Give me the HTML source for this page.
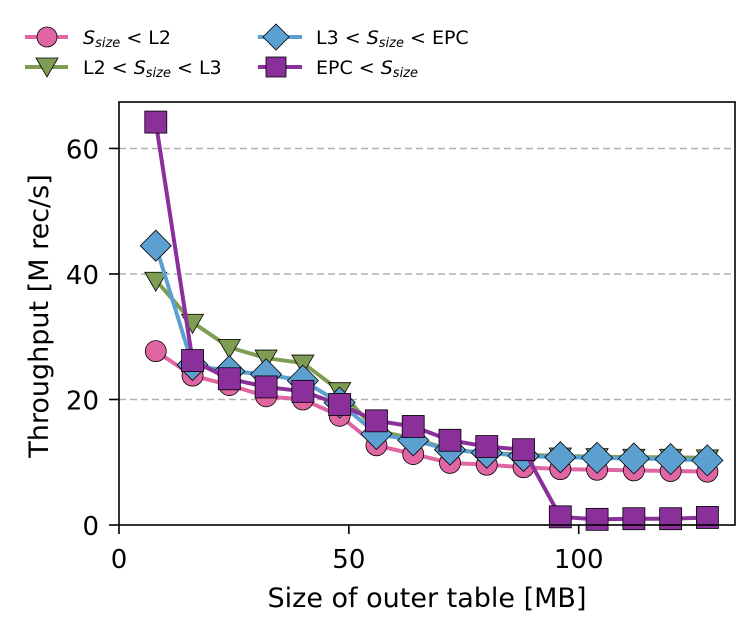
<!DOCTYPE html>
<html><head><meta charset="utf-8"><style>
html,body{margin:0;padding:0;background:#fff;}
svg{display:block;font-family:"DejaVu Sans","Liberation Sans",sans-serif;}
</style></head><body>
<svg id="chart" width="755" height="632" viewBox="0 0 755 632">
<g id="legend">
  <g>
    <line x1="25" y1="37" x2="68" y2="37" stroke="#e066a3" stroke-width="4"/>
    <circle cx="47" cy="37" r="10" fill="#e066a3" stroke="#000" stroke-width="0.8"/>
    <text x="83" y="44" font-size="19"><tspan font-style="italic">S</tspan><tspan font-style="italic" font-size="13" dy="3">size</tspan><tspan dy="-3"> &lt; L2</tspan></text>
  </g>
  <g>
    <line x1="25" y1="67" x2="68" y2="67" stroke="#7f9c55" stroke-width="4"/>
    <polygon points="36,58 58,58 47,77" fill="#7f9c55" stroke="#000" stroke-width="0.8"/>
    <text x="83" y="74" font-size="19">L2 &lt; <tspan font-style="italic">S</tspan><tspan font-style="italic" font-size="13" dy="3">size</tspan><tspan dy="-3"> &lt; L3</tspan></text>
  </g>
  <g>
    <line x1="258" y1="37" x2="302" y2="37" stroke="#5ba0d0" stroke-width="4"/>
    <polygon points="276,24 289,37 276,50 263,37" fill="#5ba0d0" stroke="#000" stroke-width="0.8"/>
    <text x="316" y="44" font-size="19">L3 &lt; <tspan font-style="italic">S</tspan><tspan font-style="italic" font-size="13" dy="3">size</tspan><tspan dy="-3"> &lt; EPC</tspan></text>
  </g>
  <g>
    <line x1="258" y1="67" x2="302" y2="67" stroke="#8b2f9b" stroke-width="4"/>
    <rect x="266" y="57" width="20" height="20" fill="#8b2f9b" stroke="#000" stroke-width="0.8"/>
    <text x="316" y="74" font-size="19">EPC &lt; <tspan font-style="italic">S</tspan><tspan font-style="italic" font-size="13" dy="3">size</tspan></text>
  </g>
</g>
<g id="grid"></g>
<g id="series"></g>
<g id="axes"></g>
</svg>
<script>
const xValues = [8,16,24,32,40,48,56,64,72,80,88,96,104,112,120,128];
const seriesL2 = [27.7,23.8,22.3,20.5,20.0,17.4,12.7,11.3,9.9,9.6,9.2,8.9,8.8,8.7,8.6,8.5];
const seriesL2L3 = [39.0,32.3,28.3,26.6,25.8,21.4,15.0,13.8,12.0,11.5,11.2,11.0,10.9,10.8,10.8,10.7];
const seriesL3EPC = [44.5,25.5,24.5,24.0,23.0,19.5,14.5,13.5,12.0,11.5,11.0,10.8,10.7,10.6,10.5,10.3];
const seriesEPC = [64.2,26.2,23.3,22.0,21.3,19.2,16.6,15.7,13.5,12.5,12.0,1.3,0.9,1.0,1.0,1.2];
const xTicks = [0,50,100];
const yTicks = [0,20,40,60];

const NS="http://www.w3.org/2000/svg";
const L=119,R=735,T=102,B=525;
const xMin=0,xMax=134,yMin=0,yMax=67.4;
function sx(v){return L+(v-xMin)/(xMax-xMin)*(R-L);}
function sy(v){return B-(v-yMin)/(yMax-yMin)*(B-T);}
function mk(tag,attrs,parent){const e=document.createElementNS(NS,tag);for(const k in attrs)e.setAttribute(k,attrs[k]);parent.appendChild(e);return e;}

const grid=document.getElementById('grid');
yTicks.forEach(t=>{if(t===0)return;
  const g=mk('line',{x1:L,x2:R,y1:sy(t),y2:sy(t),stroke:'#b0b0b0','stroke-width':1.5,'stroke-dasharray':'7,4'},grid);
  
  
});

const seriesG=document.getElementById('series');
const defs=[
 {name:'l2',data:seriesL2,color:'#e066a3',shape:'circle'},
 {name:'l2-l3',data:seriesL2L3,color:'#7f9c55',shape:'tri'},
 {name:'l3-epc',data:seriesL3EPC,color:'#5ba0d0',shape:'diamond'},
 {name:'epc',data:seriesEPC,color:'#8b2f9b',shape:'square'}
];
defs.forEach(s=>{
  const g=mk('g',{},seriesG);
  
  
  const pts=s.data.map((v,i)=>sx(xValues[i])+','+sy(v)).join(' ');
  const pl=mk('polyline',{points:pts,fill:'none',stroke:s.color,'stroke-width':4,'stroke-linejoin':'round'},g);
  
  
  s.data.forEach((v,i)=>{
    const x=sx(xValues[i]),y=sy(v);let m;
    const st={fill:s.color,stroke:'#000','stroke-width':0.8};
    if(s.shape==='circle'){m=mk('circle',Object.assign({cx:x,cy:y,r:10.5},st),g);}
    else if(s.shape==='tri'){m=mk('polygon',Object.assign({points:(x-11)+','+(y-8)+' '+(x+11)+','+(y-8)+' '+x+','+(y+11)},st),g);}
    else if(s.shape==='diamond'){m=mk('polygon',Object.assign({points:x+','+(y-15.5)+' '+(x+15.5)+','+y+' '+x+','+(y+15.5)+' '+(x-15.5)+','+y},st),g);}
    else {m=mk('rect',Object.assign({x:x-11,y:y-11,width:22,height:22},st),g);}
    
    
  });
});

const ax=document.getElementById('axes');
const frame=mk('rect',{x:L,y:T,width:R-L,height:B-T,fill:'none',stroke:'#000','stroke-width':1.6},ax);


xTicks.forEach(t=>{
  const l=mk('line',{x1:sx(t),x2:sx(t),y1:B,y2:B+9,stroke:'#000','stroke-width':1.6},ax);
  
  
  const tx=mk('text',{x:sx(t),y:568,'font-size':26,'text-anchor':'middle'},ax);
  tx.textContent=t;
  
  
});
yTicks.forEach(t=>{
  const l=mk('line',{x1:L-10,x2:L,y1:sy(t),y2:sy(t),stroke:'#000','stroke-width':1.6},ax);
  
  
  const tx=mk('text',{x:L-20,y:sy(t)+10,'font-size':26,'text-anchor':'end'},ax);
  tx.textContent=t;
  
  
});
const xt=mk('text',{x:427,y:607,'font-size':27,'text-anchor':'middle'},ax);
xt.textContent='Size of outer table [MB]';


const yt=mk('text',{x:0,y:0,'font-size':27,'text-anchor':'middle',transform:'translate(48,316) rotate(-90)'},ax);
yt.textContent='Throughput [M rec/s]';


</script>
</body></html>
